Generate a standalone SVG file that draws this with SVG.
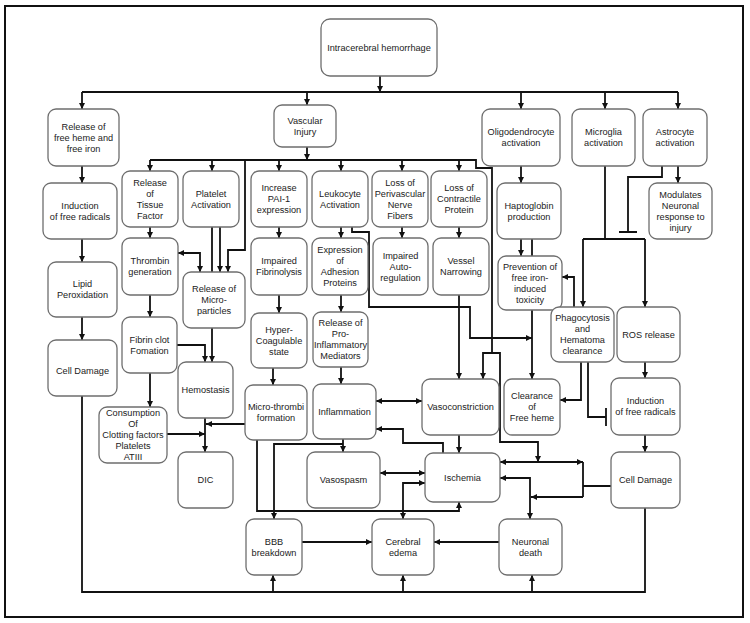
<svg xmlns="http://www.w3.org/2000/svg" width="750" height="623" viewBox="0 0 750 623">
<style>
.n{fill:#fff;stroke:#6e6e6e;stroke-width:1.3}
text{font-family:"Liberation Sans",Arial,sans-serif;font-size:9.2px;fill:#222;text-anchor:middle;dominant-baseline:central}
.c path{fill:none;stroke:#111;stroke-width:1.8}
.e{marker-end:url(#a)}
.b{marker-start:url(#a);marker-end:url(#a)}
</style>
<defs>
<marker id="a" viewBox="0 0 8 8" refX="8" refY="4" markerWidth="6" markerHeight="6" markerUnits="userSpaceOnUse" orient="auto-start-reverse"><path d="M0,0 L8,4 L0,8 z" fill="#111"/></marker>
</defs>
<rect width="750" height="623" fill="#fff"/>
<rect x="5" y="6" width="738" height="611" fill="none" stroke="#111" stroke-width="2"/>

<g class="c" id="connectors">
<path class="e" d="M380,76 V92"/>
<path d="M82,92 H678"/>
<path class="e" d="M82,92 V109"/>
<path class="e" d="M307,92 V105"/>
<path class="e" d="M521,92 V109"/>
<path class="e" d="M605,92 V109"/>
<path class="e" d="M678,92 V109"/>
<path class="e" d="M82,166 V183"/>
<path class="e" d="M82,239 V262"/>
<path class="e" d="M82,317 V340"/>
<path d="M82,396 V592 H645 V508"/>
<path class="e" d="M273,592 V575"/>
<path class="e" d="M403,592 V575"/>
<path class="e" d="M532,592 V575"/>
<path class="e" d="M307,147 V160"/>
<path d="M150,160 H476 V168 H492 V353"/>
<path class="e" d="M150,160 V171"/>
<path class="e" d="M212,160 V171"/>
<path class="e" d="M279,160 V171"/>
<path class="e" d="M341,160 V171"/>
<path class="e" d="M402,160 V171"/>
<path class="e" d="M459,160 V171"/>
<path class="e" d="M245,160 V250 H228 V272"/>
<path d="M212,227 V272"/>
<path class="e" d="M220,227 V272"/>
<path class="e" d="M212,328 V362"/>
<path class="e" d="M177,345 H205 V362"/>
<path class="e" d="M150,227 V238"/>
<path class="e" d="M150,295 V317"/>
<path class="e" d="M150,373 V407"/>
<path class="b" d="M178,253 H200 V272"/>
<path class="e" d="M205,418 V452"/>
<path class="e" d="M245,424 H206"/>
<path class="e" d="M167,434 H205"/>
<path class="e" d="M279,227 V238"/>
<path class="e" d="M279,295 V313"/>
<path class="e" d="M273,368 V385"/>
<path class="e" d="M341,227 V238"/>
<path class="e" d="M341,295 V312"/>
<path class="e" d="M341,367 V384"/>
<path class="e" d="M402,227 V238"/>
<path class="e" d="M459,227 V238"/>
<path class="e" d="M459,295 V379"/>
<path class="e" d="M352,227 V232 H369 V307 H470 V338 H532"/>
<path class="e" d="M492,353 H483 V379"/>
<path class="e" d="M492,353 H500 V442 H538 V462"/>
<path class="b" d="M376,401 H422"/>
<path class="e" d="M459,435 V453"/>
<path class="e" d="M443,453 V443 H403 V429 H376"/>
<path class="e" d="M343,439 V452"/>
<path class="e" d="M343,444 H274 V519"/>
<path class="b" d="M380,473 H425"/>
<path class="e" d="M257,440 V511 H459 V502"/>
<path class="b" d="M425,483 H403 V519"/>
<path class="e" d="M302,542 H372"/>
<path class="e" d="M499,542 H434"/>
<path class="b" d="M500,462 H583"/>
<path d="M611,486 H583 M583,462 V497"/>
<path class="e" d="M583,497 H531"/>
<path class="b" d="M500,478 H530 V519"/>
<path class="e" d="M521,166 V183"/>
<path class="e" d="M678,166 V183"/>
<path d="M662,166 V177 H628 V232 M619,232 H637"/>
<path d="M605,166 V239 M583,239 H645"/>
<path class="e" d="M583,239 V307"/>
<path class="e" d="M645,239 V307"/>
<path class="e" d="M521,239 V256"/>
<path d="M532,239 V256"/>
<path class="e" d="M532,310 V379"/>
<path class="e" d="M574,307 V277 H562"/>
<path class="e" d="M581,362 V400 H560"/>
<path d="M588,362 V417 H606 M606,408 V426"/>
<path class="e" d="M645,362 V378"/>
<path class="e" d="M645,435 V452"/>
</g>

<g id="ich"><rect class="n" x="321" y="19" width="116" height="57" rx="9"/><text x="379" y="47.5">Intracerebral hemorrhage</text></g>
<g id="heme"><rect class="n" x="48" y="109" width="71" height="57" rx="8"/><text x="83.5" y="126.5">Release of</text><text x="83.5" y="137.5">free heme and</text><text x="83.5" y="148.5">free iron</text></g>
<g id="vascular"><rect class="n" x="274" y="105" width="62" height="42" rx="8"/><text x="305" y="120.5">Vascular</text><text x="305" y="131.5">Injury</text></g>
<g id="oligo"><rect class="n" x="482" y="109" width="78" height="57" rx="8"/><text x="521" y="132">Oligodendrocyte</text><text x="521" y="143">activation</text></g>
<g id="microglia"><rect class="n" x="572" y="109" width="63" height="57" rx="8"/><text x="603.5" y="132">Microglia</text><text x="603.5" y="143">activation</text></g>
<g id="astro"><rect class="n" x="643" y="109" width="64" height="57" rx="8"/><text x="675" y="132">Astrocyte</text><text x="675" y="143">activation</text></g>
<g id="induction1"><rect class="n" x="43" y="183" width="74" height="56" rx="8"/><text x="80" y="205.5">Induction</text><text x="80" y="216.5">of free radicals</text></g>
<g id="tissue"><rect class="n" x="122" y="171" width="56" height="56" rx="8"/><text x="150" y="182.5">Release</text><text x="150" y="193.5">of</text><text x="150" y="204.5">Tissue</text><text x="150" y="215.5">Factor</text></g>
<g id="platelet"><rect class="n" x="183" y="171" width="56" height="56" rx="8"/><text x="211" y="193.5">Platelet</text><text x="211" y="204.5">Activation</text></g>
<g id="pai"><rect class="n" x="251" y="171" width="56" height="56" rx="8"/><text x="279" y="188">Increase</text><text x="279" y="199">PAI-1</text><text x="279" y="210">expression</text></g>
<g id="leuko"><rect class="n" x="312" y="171" width="56" height="56" rx="8"/><text x="340" y="193.5">Leukocyte</text><text x="340" y="204.5">Activation</text></g>
<g id="periv"><rect class="n" x="372" y="171" width="56" height="56" rx="8"/><text x="400" y="182.5">Loss of</text><text x="400" y="193.5">Perivascular</text><text x="400" y="204.5">Nerve</text><text x="400" y="215.5">Fibers</text></g>
<g id="contractile"><rect class="n" x="431" y="171" width="56" height="56" rx="8"/><text x="459" y="188">Loss of</text><text x="459" y="199">Contractile</text><text x="459" y="210">Protein</text></g>
<g id="hapto"><rect class="n" x="497" y="183" width="64" height="56" rx="8"/><text x="529" y="205.5">Haptoglobin</text><text x="529" y="216.5">production</text></g>
<g id="modulates"><rect class="n" x="649" y="183" width="63" height="56" rx="8"/><text x="680.5" y="194.5">Modulates</text><text x="680.5" y="205.5">Neuronal</text><text x="680.5" y="216.5">response to</text><text x="680.5" y="227.5">injury</text></g>
<g id="lipid"><rect class="n" x="48" y="262" width="69" height="55" rx="8"/><text x="82.5" y="284">Lipid</text><text x="82.5" y="295">Peroxidation</text></g>
<g id="thrombin"><rect class="n" x="122" y="238" width="56" height="57" rx="8"/><text x="150" y="261">Thrombin</text><text x="150" y="272">generation</text></g>
<g id="microparticles"><rect class="n" x="183" y="272" width="62" height="56" rx="8"/><text x="214" y="289">Release of</text><text x="214" y="300">Micro-</text><text x="214" y="311">particles</text></g>
<g id="fibrinolysis"><rect class="n" x="251" y="238" width="56" height="57" rx="8"/><text x="279" y="261">Impaired</text><text x="279" y="272">Fibrinolysis</text></g>
<g id="adhesion"><rect class="n" x="312" y="238" width="56" height="57" rx="8"/><text x="340" y="250">Expression</text><text x="340" y="261">of</text><text x="340" y="272">Adhesion</text><text x="340" y="283">Proteins</text></g>
<g id="autoreg"><rect class="n" x="373" y="238" width="55" height="57" rx="8"/><text x="400.5" y="255.5">Impaired</text><text x="400.5" y="266.5">Auto-</text><text x="400.5" y="277.5">regulation</text></g>
<g id="narrowing"><rect class="n" x="433" y="238" width="56" height="57" rx="8"/><text x="461" y="261">Vessel</text><text x="461" y="272">Narrowing</text></g>
<g id="prevention"><rect class="n" x="498" y="256" width="64" height="54" rx="8"/><text x="530" y="266.5">Prevention of</text><text x="530" y="277.5">free iron-</text><text x="530" y="288.5">induced</text><text x="530" y="299.5">toxicity</text></g>
<g id="phago"><rect class="n" x="551" y="307" width="63" height="55" rx="8"/><text x="582.5" y="318">Phagocytosis</text><text x="582.5" y="329">and</text><text x="582.5" y="340">Hematoma</text><text x="582.5" y="351">clearance</text></g>
<g id="ros"><rect class="n" x="617" y="307" width="63" height="55" rx="8"/><text x="648.5" y="334.5">ROS release</text></g>
<g id="celldamage1"><rect class="n" x="48" y="340" width="69" height="56" rx="8"/><text x="82.5" y="371">Cell Damage</text></g>
<g id="fibrin"><rect class="n" x="122" y="317" width="55" height="56" rx="8"/><text x="149.5" y="339.5">Fibrin clot</text><text x="149.5" y="350.5">Fomation</text></g>
<g id="hyper"><rect class="n" x="251" y="313" width="56" height="55" rx="8"/><text x="279" y="329.5">Hyper-</text><text x="279" y="340.5">Coagulable</text><text x="279" y="351.5">state</text></g>
<g id="mediators"><rect class="n" x="313" y="312" width="55" height="55" rx="8"/><text x="340.5" y="323">Release of</text><text x="340.5" y="334">Pro-</text><text x="340.5" y="345">Inflammatory</text><text x="340.5" y="356">Mediators</text></g>
<g id="hemostasis"><rect class="n" x="178" y="362" width="55" height="56" rx="8"/><text x="205.5" y="390">Hemostasis</text></g>
<g id="consumption"><rect class="n" x="99" y="407" width="68" height="56" rx="8"/><text x="133" y="413">Consumption</text><text x="133" y="424">Of</text><text x="133" y="435">Clotting factors</text><text x="133" y="446">Platelets</text><text x="133" y="457">ATIII</text></g>
<g id="microthrombi"><rect class="n" x="245" y="385" width="62" height="55" rx="8"/><text x="276" y="407">Micro-thrombi</text><text x="276" y="418">formation</text></g>
<g id="inflammation"><rect class="n" x="313" y="384" width="63" height="55" rx="8"/><text x="344.5" y="411.5">Inflammation</text></g>
<g id="vasoconstriction"><rect class="n" x="422" y="379" width="77" height="56" rx="8"/><text x="460.5" y="407">Vasoconstriction</text></g>
<g id="clearance"><rect class="n" x="504" y="379" width="56" height="56" rx="8"/><text x="532" y="396">Clearance</text><text x="532" y="407">of</text><text x="532" y="418">Free heme</text></g>
<g id="induction2"><rect class="n" x="611" y="378" width="69" height="57" rx="8"/><text x="645.5" y="401">Induction</text><text x="645.5" y="412">of free radicals</text></g>
<g id="dic"><rect class="n" x="178" y="452" width="55" height="56" rx="8"/><text x="205.5" y="480">DIC</text></g>
<g id="vasospasm"><rect class="n" x="307" y="452" width="73" height="56" rx="8"/><text x="343.5" y="480">Vasospasm</text></g>
<g id="ischemia"><rect class="n" x="425" y="453" width="75" height="49" rx="8"/><text x="462.5" y="477.5">Ischemia</text></g>
<g id="celldamage2"><rect class="n" x="611" y="452" width="69" height="56" rx="8"/><text x="645.5" y="480">Cell Damage</text></g>
<g id="bbb"><rect class="n" x="246" y="519" width="56" height="56" rx="8"/><text x="274" y="541.5">BBB</text><text x="274" y="552.5">breakdown</text></g>
<g id="edema"><rect class="n" x="372" y="519" width="62" height="56" rx="8"/><text x="403" y="541.5">Cerebral</text><text x="403" y="552.5">edema</text></g>
<g id="neuronal"><rect class="n" x="499" y="519" width="63" height="56" rx="8"/><text x="530.5" y="541.5">Neuronal</text><text x="530.5" y="552.5">death</text></g>
</svg>
